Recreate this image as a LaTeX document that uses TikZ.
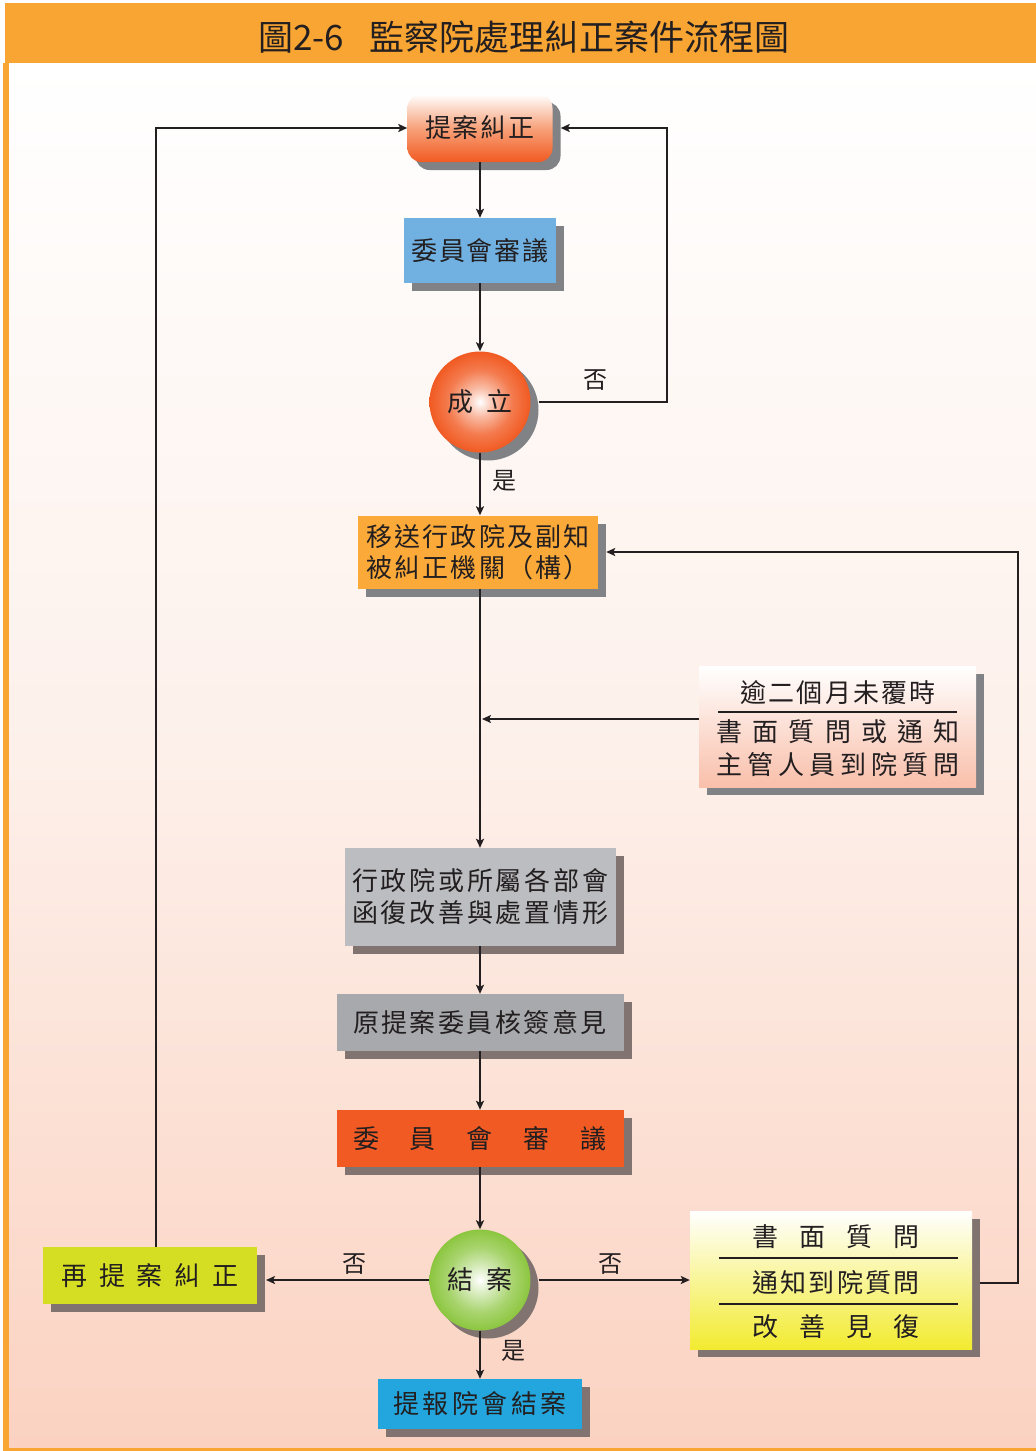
\documentclass[tikz,border=0pt]{standalone}
\usepackage{fontspec}
\setmainfont{Noto Sans CJK TC}
\usetikzlibrary{shadows,arrows.meta,calc}
\definecolor{ink}{HTML}{231F20}
\definecolor{titleor}{HTML}{F9A533}
\definecolor{bgmid}{HTML}{FDF0EA}
\definecolor{bgbot}{HTML}{FBD2C1}
\definecolor{shgray}{HTML}{808285}
\definecolor{shbrown}{HTML}{807370}
\definecolor{redor}{HTML}{F15A22}
\definecolor{skyblue}{HTML}{70B1E2}
\definecolor{boxor}{HTML}{FBA938}
\definecolor{gray1}{HTML}{BCBDC0}
\definecolor{gray2}{HTML}{A8A9AC}
\definecolor{limey}{HTML}{D6DE23}
\definecolor{cyanb}{HTML}{22A6DD}
\definecolor{yel}{HTML}{F2EB30}
\definecolor{peach}{HTML}{F9BFAA}
\definecolor{grn}{HTML}{8CC63F}
\definecolor{tianmid}{HTML}{F7A27A}
\pgfdeclareradialshading{orball}{\pgfpoint{0bp}{0bp}}{color(0bp)=(white); color(7bp)=(redor!40!white); color(16bp)=(redor!80!white); color(25bp)=(redor); color(50bp)=(redor)}
\pgfdeclareradialshading{grball}{\pgfpoint{0bp}{0bp}}{color(0bp)=(white); color(7bp)=(grn!35!white); color(16bp)=(grn!75!white); color(25bp)=(grn); color(50bp)=(grn)}
\newcommand\sprd[2]{\makebox[#1][s]{#2}}
\tikzset{
 txt/.style={text=ink, font=\fontsize{26}{32}\selectfont, inner sep=0pt},
 box/.style={txt, draw=none, rectangle},
 shU/.style={drop shadow={shadow xshift=8pt, shadow yshift=-8pt, fill=shgray, opacity=1}},
 shB/.style={drop shadow={shadow xshift=8pt, shadow yshift=-8pt, fill=shbrown, opacity=1}},
 arr/.style={draw=ink, line width=2pt, line join=miter, -{Stealth[length=9pt,width=8pt,inset=2pt]}},
 lbl/.style={text=ink, font=\fontsize{24}{28}\selectfont, inner sep=0pt},
 divider/.style={draw=ink, line width=1.2pt},
}
\begin{document}
\begin{tikzpicture}[x=1pt,y=-1pt]
\useasboundingbox (0,0) rectangle (1036,1451);
\fill[white] (0,0) rectangle (1036,1451);
\fill[titleor] (5,3) rectangle (1036,63);
\fill[titleor] (3,63) rectangle (9,1451);
\fill[titleor] (3,1447) rectangle (1036,1451);
\shade[top color=white, bottom color=bgbot, middle color=bgmid] (9,63) rectangle (1036,1447);
\node[text=ink, font=\fontsize{35}{40}\selectfont, inner sep=0pt] (title) at (524,37) {圖2-6\hspace{26pt}監察院處理糾正案件流程圖};

% nodes
\node[box, shU, rounded corners=14pt, minimum width=145pt, minimum height=68pt, top color=white, bottom color=redor, middle color=tianmid] (tian) at (480,128) {\sprd{110pt}{提\hfill 案\hfill 糾\hfill 正}};
\node[box, shU, fill=skyblue, minimum width=152pt, minimum height=65pt] (wy1) at (480,250.5) {\sprd{137pt}{委\hfill 員\hfill 會\hfill 審\hfill 議}};
\node[txt, circle, shU, minimum size=101pt, shading=orball] (cl) at (480,402) {\sprd{66pt}{成\hfill 立}};
\node[box, shU, fill=boxor, minimum width=240pt, minimum height=73pt, align=left, font=\fontsize{26}{31}\selectfont] (ys) at (478,552) {\sprd{224pt}{移\hfill 送\hfill 行\hfill 政\hfill 院\hfill 及\hfill 副\hfill 知}\\\sprd{224pt}{被\hfill 糾\hfill 正\hfill 機\hfill 關\hfill （\hfill 構\hfill ）}};
\node[box, shU, minimum width=277pt, minimum height=121pt, top color=white, bottom color=peach] (yu) at (837.5,726.5) {};
\node[txt] (yu1) at (838,693) {\sprd{196pt}{逾\hfill 二\hfill 個\hfill 月\hfill 未\hfill 覆\hfill 時}};
\node[txt] (yu2) at (838,732) {\sprd{244pt}{書\hfill 面\hfill 質\hfill 問\hfill 或\hfill 通\hfill 知}};
\node[txt] (yu3) at (838,765) {\sprd{244pt}{主\hfill 管\hfill 人\hfill 員\hfill 到\hfill 院\hfill 質\hfill 問}};
\draw[divider] (718,712) -- (957,712);
\node[box, shB, fill=gray1, minimum width=271pt, minimum height=98pt, align=center] (xz) at (480,897) {\sprd{256pt}{行\hfill 政\hfill 院\hfill 或\hfill 所\hfill 屬\hfill 各\hfill 部\hfill 會}\\\sprd{256pt}{函\hfill 復\hfill 改\hfill 善\hfill 與\hfill 處\hfill 置\hfill 情\hfill 形}};
\node[box, shB, fill=gray2, minimum width=287pt, minimum height=57pt] (ytb) at (480,1022.5) {\sprd{254pt}{原\hfill 提\hfill 案\hfill 委\hfill 員\hfill 核\hfill 簽\hfill 意\hfill 見}};
\node[box, shB, fill=redor, minimum width=287pt, minimum height=57pt] (wy2) at (480,1138.5) {\sprd{254pt}{委\hfill 員\hfill 會\hfill 審\hfill 議}};
\node[txt, circle, shB, minimum size=101pt, shading=grball] (ja) at (480,1280) {\sprd{66pt}{結\hfill 案}};
\node[box, shB, fill=limey, minimum width=214pt, minimum height=57pt] (zt) at (150,1275.5) {\sprd{177pt}{再\hfill 提\hfill 案\hfill 糾\hfill 正}};
\node[box, shB, minimum width=282pt, minimum height=138pt, top color=white, bottom color=yel] (smz) at (831,1280) {};
\node[txt] (smz1) at (836,1237) {\sprd{168pt}{書\hfill 面\hfill 質\hfill 問}};
\node[txt] (smz2) at (836,1283) {\sprd{168pt}{通\hfill 知\hfill 到\hfill 院\hfill 質\hfill 問}};
\node[txt] (smz3) at (836,1327) {\sprd{168pt}{改\hfill 善\hfill 見\hfill 復}};
\draw[divider] (719,1258) -- (958,1258);
\draw[divider] (719,1304) -- (958,1304);
\node[box, shB, fill=cyanb, minimum width=204pt, minimum height=50pt] (tb) at (480,1404) {\sprd{174pt}{提\hfill 報\hfill 院\hfill 會\hfill 結\hfill 案}};

% connectors
\coordinate (r1) at (667,128);
\coordinate (m1) at (482,719);
\coordinate (zte) at (266,1280);
\coordinate (r2) at (1018,1283);
\coordinate (r3) at (1018,552);
\coordinate (l2) at (156,128);
\draw[arr] (tian) -- (wy1);
\draw[arr] (wy1) -- (cl);
\draw[arr] ([xshift=8pt]cl.east) -- (cl.east -| r1) -- (r1) -- ([xshift=8pt]tian.east);
\draw[arr] (cl.south) -- (cl.south |- ys.north);
\draw[arr] (cl.south |- ys.south) -- (cl.south |- xz.north);
\draw[arr] (yu.west |- m1) -- (m1);
\draw[arr] (xz) -- (ytb);
\draw[arr] (ytb) -- (wy2);
\draw[arr] (wy2) -- (ja);
\draw[arr] (ja.west) -- (zte);
\draw[arr] ([xshift=8pt]ja.east) -- (smz.west);
\draw[arr] (ja) -- (tb);
\draw[arr] ($(smz.east)+(8,3)$) -- (r2) -- (r3) -- ([xshift=8pt]ys.east);
\draw[arr] (zt.north -| l2) -- (l2) -- (tian.west);

% labels
\node[lbl] (no1) at (595,380) {否};
\node[lbl] (yes1) at (504,481) {是};
\node[lbl] (no2) at (354,1264) {否};
\node[lbl] (no3) at (610,1264) {否};
\node[lbl] (yes2) at (513,1351) {是};
\end{tikzpicture}
\end{document}
